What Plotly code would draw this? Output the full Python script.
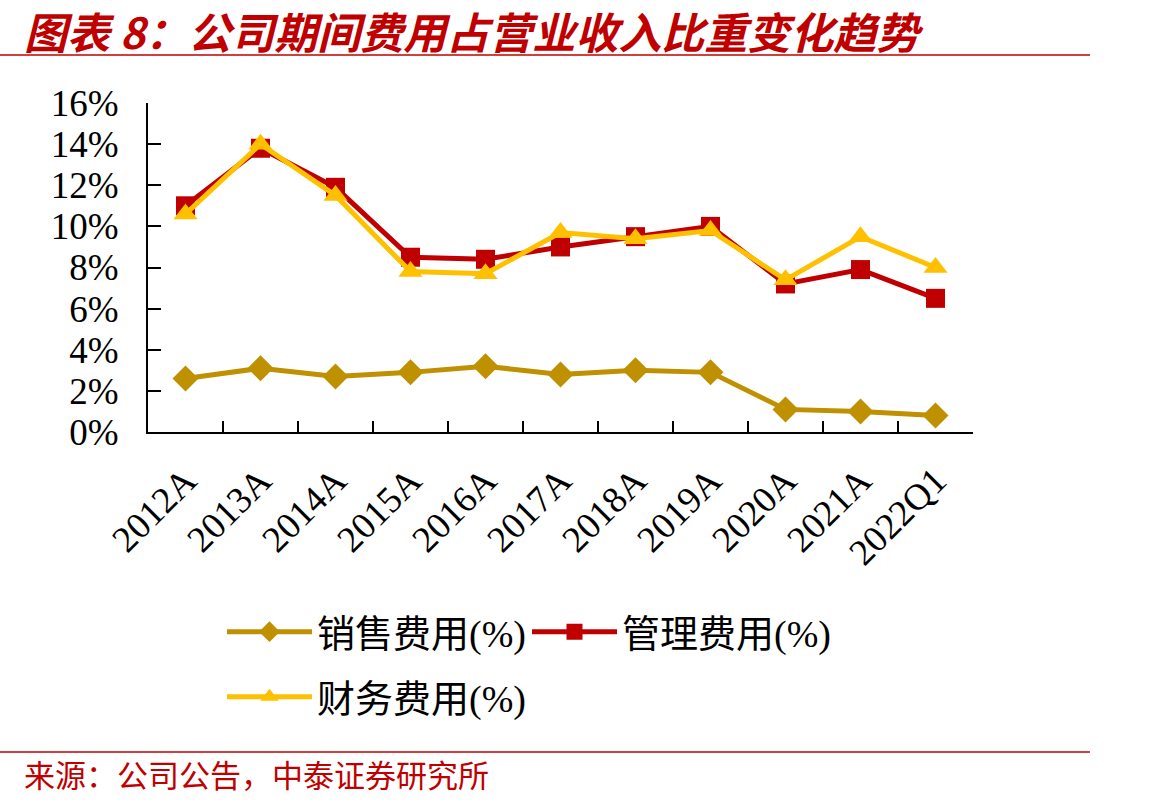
import plotly.graph_objects as go

categories = ["2012A", "2013A", "2014A", "2015A", "2016A", "2017A",
              "2018A", "2019A", "2020A", "2021A", "2022Q1"]
sales_exp = [2.6, 3.1, 2.7, 2.9, 3.2, 2.8, 3.0, 2.9, 1.1, 1.0, 0.8]
admin_exp = [11.0, 13.8, 11.9, 8.5, 8.4, 9.0, 9.5, 10.0, 7.2, 7.9, 6.5]
fin_exp = [10.6, 14.0, 11.5, 7.8, 7.7, 9.7, 9.4, 9.8, 7.4, 9.5, 8.0]
y_ticks = [0, 2, 4, 6, 8, 10, 12, 14, 16]

W, H = 1168, 803
L, R, T, B = 148, 195, 103, 371
pw, ph = W - L - R, H - T - B


def px_x(px):
    return (px - L) / pw


def px_y(py):
    return (H - B - py) / ph


fig = go.Figure()
fig.add_trace(go.Scatter(
    x=categories, y=sales_exp, name="销售费用(%)", mode="lines+markers",
    line=dict(color="#BF9000", width=5),
    marker=dict(symbol="diamond", size=20, color="#BF9000"),
    legend="legend"))
fig.add_trace(go.Scatter(
    x=categories, y=admin_exp, name="管理费用(%)", mode="lines+markers",
    line=dict(color="#C00000", width=5),
    marker=dict(symbol="square", size=19, color="#C00000"),
    legend="legend"))
fig.add_trace(go.Scatter(
    x=categories, y=fin_exp, name="财务费用(%)", mode="lines+markers",
    line=dict(color="#FFC000", width=5),
    marker=dict(symbol="triangle-up", size=21, color="#FFC000"),
    legend="legend2"))

serif = "Liberation Serif, 'Times New Roman', 'Noto Sans CJK SC', serif"

leg_common = dict(
    orientation="h", xanchor="left", yanchor="middle", itemwidth=85,
    entrywidth=205, font=dict(family=serif, size=38, color="black"),
    bgcolor="rgba(0,0,0,0)", itemclick=False)

fig.update_layout(
    width=W, height=H,
    margin=dict(l=L, r=R, t=T, b=B, pad=0),
    paper_bgcolor="white", plot_bgcolor="white",
    showlegend=True,
    xaxis=dict(
        type="category", tickson="boundaries", ticks="inside", ticklen=11,
        tickwidth=2, tickcolor="black", showline=True, linecolor="black",
        linewidth=2, showgrid=False, zeroline=False, tickangle=-45,
        ticklabelstandoff=10,
        tickfont=dict(family=serif, size=37, color="black"),
        range=[-0.5, len(categories) - 0.5]),
    yaxis=dict(
        range=[0, 16], tickvals=y_ticks, ticktext=[f"{v}%" for v in y_ticks],
        ticks="inside", ticklen=13, tickwidth=2, tickcolor="black",
        showline=True, linecolor="black", linewidth=2, showgrid=False,
        zeroline=False, ticklabelstandoff=20,
        tickfont=dict(family=serif, size=37, color="black")),
    legend=dict(x=px_x(222), y=px_y(632), **leg_common),
    legend2=dict(x=px_x(222), y=px_y(697), **leg_common),
)

fig.add_annotation(
    text="<b><i>图表 8：公司期间费用占营业收入比重变化趋势</i></b>",
    xref="paper", yref="paper", x=px_x(22), y=px_y(30),
    xanchor="left", yanchor="middle", showarrow=False,
    font=dict(family="'Noto Sans CJK SC', sans-serif", size=43, color="#C00000"))
fig.add_annotation(
    text="来源：公司公告，中泰证券研究所",
    xref="paper", yref="paper", x=px_x(22), y=px_y(773),
    xanchor="left", yanchor="middle", showarrow=False,
    font=dict(family="'Noto Sans CJK SC', sans-serif", size=31, color="#C00000"))

fig.add_shape(type="line", xref="paper", yref="paper",
              x0=px_x(0), x1=px_x(1090), y0=px_y(55), y1=px_y(55),
              line=dict(color="#C00000", width=1.5))
fig.add_shape(type="line", xref="paper", yref="paper",
              x0=px_x(0), x1=px_x(1090), y0=px_y(752), y1=px_y(752),
              line=dict(color="#C00000", width=1.5))

fig.write_html("out.html")
